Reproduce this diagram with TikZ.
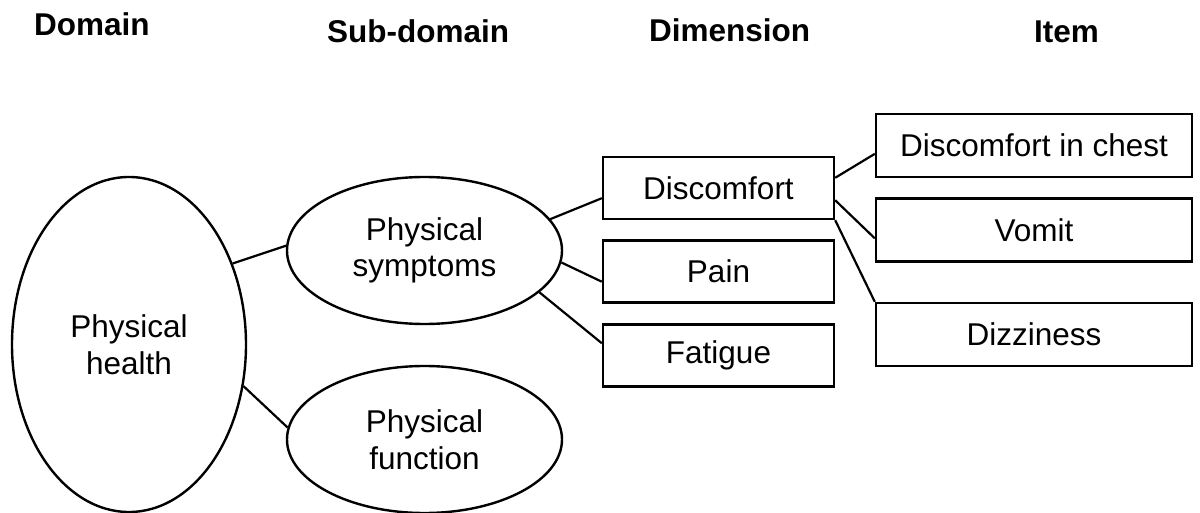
\documentclass[tikz,border=0pt]{standalone}
\usepackage{fontspec}
\setmainfont{Liberation Sans}
\usetikzlibrary{shapes.geometric}
\begin{document}
\begin{tikzpicture}[x=1pt,y=-1pt,
  line width=2.4pt,
  txt/.style={font=\fontsize{31.5}{36.5}\selectfont, align=center},
  head/.style={font=\fontsize{31.5}{36}\selectfont\bfseries, anchor=base west, inner sep=0},
  oval/.style={draw, ellipse, inner sep=0, txt},
  box/.style={draw, rectangle, inner sep=0, txt},
  dimbox/.style={box, minimum width=231pt, minimum height=62pt},
  itembox/.style={box, minimum width=316pt, minimum height=63pt},
  link/.style={draw, line width=2.2pt}]
\useasboundingbox (0,0) rectangle (1200,513);

% column headings
\node[head] (hdom) at (33,36) {Domain};
\node[head] (hsub) at (326,43) {Sub-domain};
\node[head] (hdim) at (648,42) {Dimension};
\node[head] (hitem) at (1033,43) {Item};

% domain and sub-domains
\node[oval, minimum width=234pt, minimum height=335pt] (ph) at (129,344.5) {Physical\\health};
\node[oval, minimum width=275pt, minimum height=147pt] (ps) at (424.5,250.5) {Physical\\symptoms};
\node[oval, minimum width=275pt, minimum height=147pt] (pf) at (424.5,439.5) {Physical\\function};

% dimensions
\node[dimbox] (dis) at (718.5,188) {Discomfort};
\node[dimbox] (pain) at (718.5,271.5) {Pain};
\node[dimbox] (fat) at (718.5,355.5) {Fatigue};

% items
\node[itembox] (chest) at (1034,145.5) {Discomfort in chest};
\node[itembox] (vom) at (1034,230) {Vomit};
\node[itembox] (diz) at (1034,334.5) {Dizziness};

% connectors
\draw[link] (ph.38) -- (ps.178);
\draw[link] (ph.-20) -- (pf.175.5);
\draw[link] (ps.14) -- (dis.185);
\draw[link] (ps.-5) -- (pain.185);
\draw[link] (ps.-20) -- (fat.174);
\draw[link] (dis.5.4) -- (chest.183.4);
\draw[link] (dis.-6) -- (vom.183);
\draw[link] (dis.south east) -- (diz.north west);
\end{tikzpicture}
\end{document}
